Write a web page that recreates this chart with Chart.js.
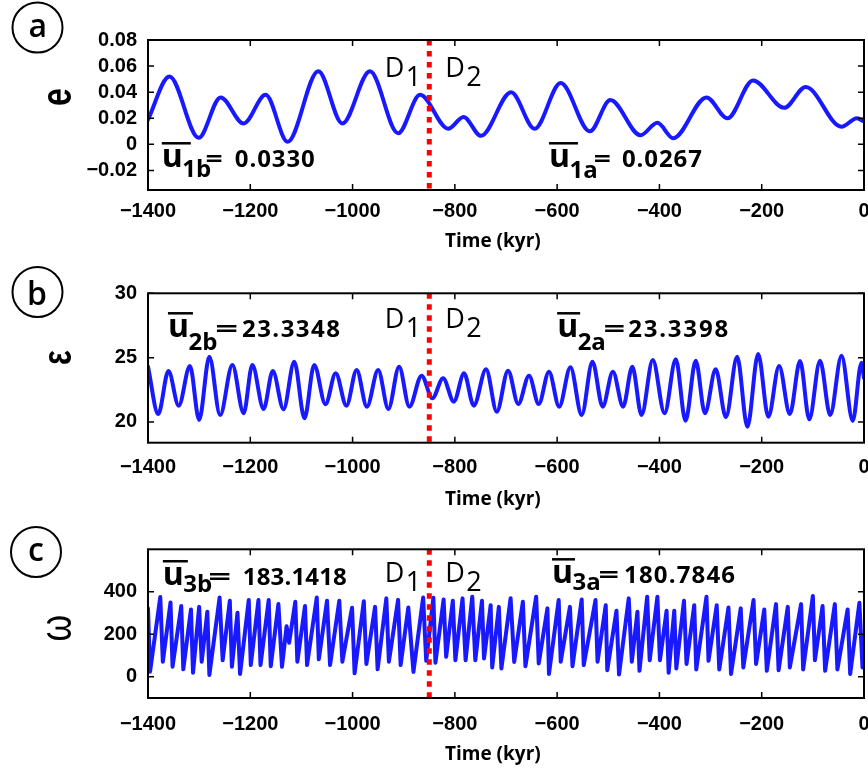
<!DOCTYPE html>
<html>
<head>
<meta charset="utf-8">
<script src="https://cdn.jsdelivr.net/npm/chart.js@4.4.1/dist/chart.umd.min.js"></script>
<style>
  body { margin: 0; background: #fff; }
  #wrap { position: relative; width: 868px; height: 773px; }
  #wrap canvas { position: absolute; left: 0; }
</style>
</head>
<body>
<div id="wrap">
  <canvas id="panelA" width="868" height="260" style="top:0px"></canvas>
  <canvas id="panelB" width="868" height="260" style="top:260px"></canvas>
  <canvas id="panelC" width="868" height="253" style="top:520px"></canvas>
</div>
<script>
// shared time axis (kyr)
const xTicks = [-1400, -1200, -1000, -800, -600, -400, -200, 0];
const breakTime = -850;

// (a) eccentricity
const eccTime = [-1400, -1358, -1301, -1258, -1213, -1170, -1127, -1067, -1020, -966, -911, -868,
    -813, -783, -749, -690, -644, -593, -536, -496, -437, -404, -373, -308, -267, -217, -156, -114, -44, -14, 0];
const eccValue = [0.019, 0.052, 0.005, 0.036, 0.016, 0.038, 0.002, 0.056, 0.016, 0.056, 0.0085, 0.038,
    0.012, 0.021, 0.0065, 0.040, 0.012, 0.047, 0.010, 0.034, 0.007, 0.0165, 0.0047, 0.036, 0.020, 0.049, 0.028, 0.044, 0.0135, 0.020, 0.0175];
const eccTicks = [-0.02, 0, 0.02, 0.04, 0.06, 0.08];

// (b) obliquity
const oblTime = [-1400, -1380, -1360, -1340, -1318, -1300, -1280, -1259, -1235, -1213, -1196, -1174, -1156, -1135,
    -1114, -1094, -1075, -1053, -1033, -1012, -992, -972, -950, -930, -909, -889, -865, -844, -823, -802,
    -782, -763, -739, -718, -696, -676, -655, -636, -616, -596, -574, -552, -531, -511, -491, -471, -453,
    -435, -413, -390, -368, -349, -329, -311, -290, -270, -248, -228, -207, -187, -166, -145, -125, -107,
    -86, -66, -44, -22, -5, 0];
const oblValue = [24.30, 20.62, 23.96, 21.27, 24.35, 20.16, 25.07, 20.54, 24.43, 20.68, 24.43, 21.01, 23.96, 20.99,
    24.69, 20.29, 24.43, 21.38, 23.78, 21.27, 24.04, 21.19, 24.04, 21.01, 24.30, 21.19, 23.60, 21.84, 23.40, 21.58,
    23.78, 21.27, 24.09, 20.80, 23.99, 21.40, 23.60, 21.40, 23.91, 21.19, 24.25, 20.54, 24.69, 21.19, 23.91, 21.19, 24.30,
    20.54, 24.82, 20.68, 24.87, 20.10, 24.76, 20.68, 24.09, 20.37, 25.07, 19.63, 25.28, 20.41, 24.35, 20.62, 24.74, 20.21,
    24.76, 20.54, 25.15, 20.08, 24.61, 23.42];
const oblTicks = [20, 25, 30];

// (c) precession angle
const precTime = [-1400, -1396, -1376, -1371, -1356, -1352, -1335, -1331, -1316, -1312, -1300, -1295, -1284, -1280,
    -1260, -1254, -1240, -1236, -1225, -1220, -1203, -1199, -1184, -1180, -1164, -1160, -1145, -1138, -1129, -1124,
    -1112, -1108, -1093, -1089, -1070, -1066, -1050, -1044, -1026, -1020, -1001, -996, -978, -973, -956, -951,
    -934, -929, -911, -906, -891, -881, -862, -856, -842, -838, -822, -817, -804, -799, -785, -779, -766, -760,
    -747, -743, -730, -727, -714, -709, -691, -684, -667, -662, -641, -636, -619, -616, -597, -593, -575, -570,
    -552, -548, -525, -521, -505, -502, -484, -479, -460, -454, -443, -439, -424, -419, -404, -399, -386, -382,
    -371, -367, -352, -347, -332, -328, -308, -304, -288, -283, -265, -260, -241, -236, -216, -211, -195, -190,
    -172, -167, -149, -145, -123, -119, -100, -96, -81, -76, -57, -52, -32, -27, -9, -3, 0];
const precValue = [322, 24, 375, 71, 350, 47, 333, 35, 317, 19, 329, 71, 306, 8,
    373, 78, 358, 47, 301, 13, 361, 55, 361, 55, 361, 50, 342, 47, 238, 160,
    353, 71, 333, 55, 373, 82, 358, 55, 358, 71, 325, 16, 355, 60, 329, 35,
    369, 71, 362, 55, 326, 23, 373, 75, 372, 66, 364, 94, 358, 78, 369, 78, 377, 78,
    358, 86, 337, 44, 329, 39, 370, 70, 353, 50, 377, 63, 322, 13, 361, 71, 329, 50,
    364, 55, 361, 71, 337, 31, 311, 11, 369, 71, 306, 28, 377, 78, 377, 78, 311, 19,
    311, 39, 358, 60, 337, 34, 377, 75, 337, 34, 326, 13, 322, 44, 361, 60, 317, 28,
    342, 31, 329, 44, 342, 34, 380, 78, 333, 28, 342, 34, 317, 13, 348, 44, 120];
const precTicks = [0, 200, 400];

const minus = v => (v < 0 ? '\u2212' : '') + Math.abs(v);

function centered(ctx, text, cx, cy, font, sx, rotate) {
    ctx.save();
    ctx.font = font;
    ctx.textAlign = 'left';
    ctx.textBaseline = 'alphabetic';
    const m = ctx.measureText(text);
    ctx.translate(cx, cy);
    ctx.scale(sx, 1);
    if (rotate) ctx.rotate(-Math.PI / 2);
    const dx = -(m.actualBoundingBoxRight - m.actualBoundingBoxLeft) / 2;
    const dy = (m.actualBoundingBoxAscent - m.actualBoundingBoxDescent) / 2;
    ctx.fillText(text, dx, dy);
    ctx.restore();
}

function drawMean(ctx, px, py, m) {
    ctx.font = 'bold 32px "Open Sans"';
    ctx.fillText('u', px, py);
    ctx.fillRect(px, py - 25, m.bar, 2.5);
    ctx.font = 'bold 24px "Open Sans"';
    ctx.fillText(m.sub, px + 20.5, py + m.subDy);
    // stretched equals sign
    ctx.save();
    const em = ctx.measureText('=');
    const ew = em.actualBoundingBoxRight + em.actualBoundingBoxLeft;
    ctx.translate(px + m.eqDx, py);
    ctx.scale(m.eqW / ew, 1);
    ctx.fillText('=', em.actualBoundingBoxLeft, 0);
    ctx.restore();
    const w = ctx.measureText(m.val).width;
    ctx.letterSpacing = ((m.valW - w) / (m.val.length - 1)) + 'px';
    ctx.fillText(m.val, px + m.valDx, py);
    ctx.letterSpacing = '0px';
}

const decor = {
    id: 'decor',
    afterDatasetsDraw(chart) {
        const {ctx, chartArea: a, scales: {x, y}} = chart;
        ctx.save();
        ctx.strokeStyle = '#000';
        ctx.lineWidth = 1.5;
        ctx.beginPath();
        x.ticks.forEach(t => {
            const px = x.getPixelForValue(t.value);
            ctx.moveTo(px, a.bottom); ctx.lineTo(px, a.bottom - 6);
            ctx.moveTo(px, a.top); ctx.lineTo(px, a.top + 6);
        });
        y.ticks.forEach(t => {
            const py = y.getPixelForValue(t.value);
            ctx.moveTo(a.left, py); ctx.lineTo(a.left + 6, py);
            ctx.moveTo(a.right, py); ctx.lineTo(a.right - 6, py);
        });
        ctx.stroke();
        ctx.lineWidth = 2;
        ctx.strokeRect(a.left, a.top, a.right - a.left, a.bottom - a.top);
        ctx.restore();
    },
    afterDraw(chart, args, o) {
        const {ctx, scales: {x, y}} = chart;
        ctx.save();
        ctx.fillStyle = '#000';
        ctx.strokeStyle = '#000';
        // panel letter in a circle
        ctx.lineWidth = 2;
        ctx.beginPath();
        ctx.arc(o.letterAt[0], o.letterAt[1], 25, 0, Math.PI * 2);
        ctx.stroke();
        centered(ctx, o.letter, o.letterAt[0], o.letterAt[1], '600 32px "Open Sans"', 1, false);
        // y label, rotated like the original axis label
        centered(ctx, o.yLabel, o.yLabelAt[0], o.yLabelAt[1], o.yLabelFont, 1.3, true);
        // x label
        ctx.textAlign = 'left';
        ctx.textBaseline = 'alphabetic';
        ctx.font = 'bold 19px "Open Sans"';
        ctx.fillText('Time (kyr)', 445, o.timeBase);
        // D1 / D2
        o.marks.forEach(d => {
            const px = x.getPixelForValue(d.x), py = y.getPixelForValue(d.y);
            ctx.font = '500 27px "Open Sans"';
            ctx.fillText('D', px, py);
            ctx.fillText(d.sub, px + 21, py + 8.5);
        });
        // means before / after
        o.means.forEach(m => drawMean(ctx, x.getPixelForValue(m.x), y.getPixelForValue(m.y), m));
        ctx.restore();
    }
};

function makePanel(id, series, p) {
    const el = document.getElementById(id);
    const h = el.height;
    const tickFont = {family: '"Liberation Sans", Arial', size: 20, weight: 'bold', lineHeight: 1};
    return new Chart(el, {
        type: 'line',
        data: {
            datasets: [{
                data: [{x: breakTime, y: p.yMax}, {x: breakTime, y: p.yMin}],
                borderColor: '#ff0000',
                borderWidth: 5,
                borderDash: [5.5, 5.5],
                borderCapStyle: 'butt',
                pointRadius: 0
            }, {
                data: series.time.map((t, i) => ({x: t, y: series.value[i]})),
                borderColor: 'rgb(25,25,255)',
                borderWidth: 4,
                borderJoinStyle: 'round',
                borderCapStyle: 'round',
                pointRadius: 0,
                tension: p.smooth ? 0.4 : 0,
                cubicInterpolationMode: p.smooth ? 'monotone' : 'default'
            }]
        },
        options: {
            responsive: false,
            animation: false,
            events: [],
            layout: {padding: {top: p.top, right: 4, bottom: 0, left: 0}},
            plugins: {legend: {display: false}, tooltip: {enabled: false}, decor: p.decor},
            scales: {
                x: {
                    type: 'linear', min: -1400, max: 0,
                    afterBuildTicks: s => { s.ticks = xTicks.map(v => ({value: v})); },
                    afterFit: s => { s.height = h - p.bottom; s.paddingLeft = 0; s.paddingRight = 0; },
                    grid: {display: false, drawTicks: false}, border: {display: false},
                    ticks: {padding: p.xPad, color: '#000', font: tickFont, maxRotation: 0, autoSkip: false,
                        callback: v => minus(v)}
                },
                y: {
                    type: 'linear', min: p.yMin, max: p.yMax,
                    afterBuildTicks: s => { s.ticks = series.ticks.map(v => ({value: v})); },
                    afterFit: s => { s.width = 148; s.paddingTop = 0; s.paddingBottom = 0; },
                    grid: {display: false, drawTicks: false}, border: {display: false},
                    ticks: {padding: 11, color: '#000', font: tickFont, autoSkip: false,
                        callback: v => v === 0 ? '0' : minus(p.digits ? +Math.abs(v).toFixed(p.digits) * Math.sign(v) : v)}
                }
            }
        },
        plugins: [decor]
    });
}

makePanel('panelA', {time: eccTime, value: eccValue, ticks: eccTicks}, {
    yMin: -0.035, yMax: 0.08, top: 40, bottom: 190, xPad: 11, smooth: true, digits: 2,
    decor: {
        letter: 'a', letterAt: [37.5, 27.5], yLabel: 'e', yLabelAt: [60, 97],
        yLabelFont: 'bold 32px "Liberation Sans"', timeBase: 247,
        marks: [{x: -937, y: 0.0516, sub: '1'}, {x: -819, y: 0.0516, sub: '2'}],
        means: [
            {x: -1373, y: -0.0174, sub: '1b', subDy: 10, bar: 29, eqDx: 45, eqW: 15, val: '0.0330', valDx: 73, valW: 80},
            {x: -616, y: -0.0174, sub: '1a', subDy: 11, bar: 29, eqDx: 46, eqW: 15, val: '0.0267', valDx: 73, valW: 80}
        ]
    }
});

makePanel('panelB', {time: oblTime, value: oblValue, ticks: oblTicks}, {
    yMin: 18.39, yMax: 30, top: 33.3, bottom: 182.7, xPad: 14.5, smooth: true,
    decor: {
        letter: 'b', letterAt: [37.5, 32], yLabel: '\u03b5', yLabelAt: [60, 97],
        yLabelFont: 'bold 31px "Liberation Sans"', timeBase: 245.3,
        marks: [{x: -937, y: 27.3, sub: '1'}, {x: -819, y: 27.3, sub: '2'}],
        means: [
            {x: -1361, y: 26.6, sub: '2b', subDy: 13, bar: 25, eqDx: 49, eqW: 20, val: '23.3348', valDx: 74, valW: 98},
            {x: -600, y: 26.6, sub: '2a', subDy: 13, bar: 23, eqDx: 48, eqW: 19, val: '23.3398', valDx: 71, valW: 100}
        ]
    }
});

makePanel('panelC', {time: precTime, value: precValue, ticks: precTicks}, {
    yMin: -100, yMax: 600, top: 29.3, bottom: 178, xPad: 16, smooth: false,
    decor: {
        letter: 'c', letterAt: [36, 32], yLabel: '\u03c9', yLabelAt: [59, 108],
        yLabelFont: '34px "Liberation Sans"', timeBase: 240.3,
        marks: [{x: -937, y: 446, sub: '1'}, {x: -819, y: 446, sub: '2'}],
        means: [
            {x: -1371, y: 432, sub: '3b', subDy: 7, bar: 25, eqDx: 47, eqW: 20, val: '183.1418', valDx: 80, valW: 104},
            {x: -610, y: 441, sub: '3a', subDy: 7, bar: 23, eqDx: 48, eqW: 18, val: '180.7846', valDx: 72, valW: 111}
        ]
    }
});
</script>
</body>
</html>
